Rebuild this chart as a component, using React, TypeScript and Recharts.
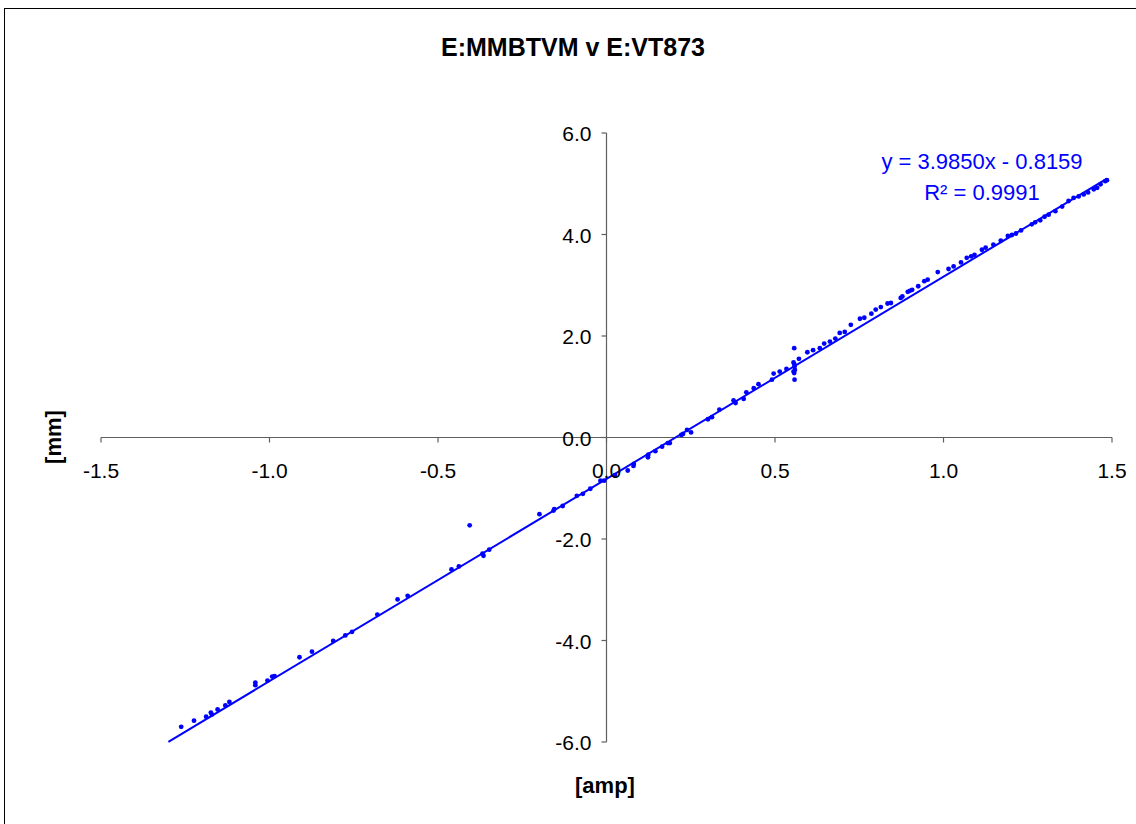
import { ReferenceLine, Scatter, ScatterChart, XAxis, YAxis } from "recharts";

// axis setup
const xTicks = [-1.5, -1.0, -0.5, 0, 0.5, 1.0, 1.5];
const yTicks = [-6, -4, -2, 0, 2, 4, 6];
const X_MIN = -1.5;
const X_MAX = 1.5;
const Y_MIN = -6;
const Y_MAX = 6;

// measured points: [amp] vs [mm]
const ampValues = [
  -1.262, -1.224, -1.188, -1.174, -1.171, -1.154, -1.131, -1.119, -1.042, -1.042,
  -1.006, -0.992, -0.985, -0.911, -0.874, -0.811, -0.775, -0.755, -0.68, -0.62,
  -0.59, -0.46, -0.438, -0.406, -0.368, -0.365, -0.348, -0.199, -0.157, -0.155,
  -0.13, -0.088, -0.07, -0.048, -0.018, -0.007, 0.025, 0.063, 0.08, 0.081,
  0.123, 0.124, 0.145, 0.165, 0.182, 0.188, 0.222, 0.227, 0.239, 0.251,
  0.301, 0.313, 0.335, 0.377, 0.383, 0.407, 0.415, 0.437, 0.451, 0.491,
  0.496, 0.514, 0.534, 0.557, 0.555, 0.557, 0.558, 0.559, 0.555, 0.557,
  0.558, 0.571, 0.596, 0.613, 0.633, 0.646, 0.663, 0.679, 0.692, 0.707,
  0.725, 0.752, 0.765, 0.786, 0.799, 0.814, 0.834, 0.844, 0.873, 0.878,
  0.894, 0.9, 0.907, 0.925, 0.943, 0.953, 0.983, 1.015, 1.03, 1.052,
  1.069, 1.082, 1.092, 1.114, 1.125, 1.148, 1.17, 1.191, 1.203, 1.215,
  1.23, 1.262, 1.272, 1.287, 1.3, 1.312, 1.332, 1.352, 1.371, 1.386,
  1.401, 1.416, 1.429, 1.446, 1.456, 1.466, 1.48, 1.485,
];
const mmValues = [
  -5.7, -5.58, -5.5, -5.42, -5.46, -5.36, -5.28, -5.21, -4.83, -4.88,
  -4.79, -4.71, -4.7, -4.33, -4.22, -4.01, -3.9, -3.83, -3.49, -3.19,
  -3.12, -2.6, -2.54, -1.73, -2.29, -2.33, -2.21, -1.51, -1.44, -1.41,
  -1.35, -1.15, -1.11, -1.01, -0.85, -0.85, -0.74, -0.65, -0.56, -0.52,
  -0.39, -0.34, -0.27, -0.18, -0.11, -0.11, 0.05, 0.07, 0.15, 0.1,
  0.36, 0.4, 0.55, 0.73, 0.68, 0.76, 0.89, 0.97, 1.05, 1.14,
  1.26, 1.3, 1.35, 1.76, 1.48, 1.45, 1.4, 1.33, 1.3, 1.27,
  1.14, 1.55, 1.68, 1.72, 1.76, 1.85, 1.89, 1.95, 2.06, 2.08,
  2.22, 2.34, 2.36, 2.44, 2.52, 2.57, 2.64, 2.65, 2.75, 2.78,
  2.87, 2.89, 2.91, 2.98, 3.08, 3.11, 3.26, 3.32, 3.37, 3.45,
  3.54, 3.57, 3.6, 3.7, 3.74, 3.8, 3.88, 3.97, 3.99, 4.02,
  4.08, 4.2, 4.24, 4.28, 4.35, 4.39, 4.46, 4.55, 4.66, 4.72,
  4.75, 4.79, 4.83, 4.89, 4.92, 4.99, 5.05, 5.07,
];

// linear trendline shown on the chart
const SLOPE = 3.985;
const INTERCEPT = -0.8159;
const trendRange = [-1.3, 1.485];

const points = ampValues.map((x, i) => ({ x, y: mmValues[i] }));
const trendSegment = trendRange.map((x) => ({ x, y: SLOPE * x + INTERCEPT }));

const W = 1136;
const H = 824;
const PLOT = { left: 101, top: 133, width: 1011, height: 609 };
const Y_AXIS_W = 60;
const X_AXIS_H = 30;
const ZERO_X = PLOT.left + (PLOT.width * (0 - X_MIN)) / (X_MAX - X_MIN);
const ZERO_Y = PLOT.top + (PLOT.height * (Y_MAX - 0)) / (Y_MAX - Y_MIN);

const FONT = "'Liberation Sans', Arial, sans-serif";
const AXIS_COLOR = "#5f5f5f";
const BLUE = "#0000FF";

const XTick = ({ x, payload }: any) => (
  <g>
    <line x1={x} y1={ZERO_Y} x2={x} y2={ZERO_Y + 5} stroke={AXIS_COLOR} strokeWidth={1.2} />
    <text x={x} y={ZERO_Y + 40} textAnchor="middle" fontSize={21} fontFamily={FONT} fill="#000">
      {Number(payload.value).toFixed(1)}
    </text>
  </g>
);

const YTick = ({ y, payload }: any) => (
  <g>
    <line x1={ZERO_X - 5} y1={y} x2={ZERO_X} y2={y} stroke={AXIS_COLOR} strokeWidth={1.2} />
    <text x={ZERO_X - 15} y={y + 8} textAnchor="end" fontSize={21} fontFamily={FONT} fill="#000">
      {Number(payload.value).toFixed(1)}
    </text>
  </g>
);

const Dot = ({ cx, cy }: any) => <circle cx={cx} cy={cy} r={2.4} fill={BLUE} />;

export default function App() {
  return (
    <div style={{ position: "absolute", left: 0, top: 0, width: W, height: H, overflow: "hidden", background: "#fff" }}>
      <div
        style={{
          position: "absolute",
          left: 4,
          top: 8,
          width: W + 10,
          height: H + 10,
          border: "1px solid #000",
        }}
      />
      <div style={{ position: "absolute", left: 0, top: 0 }}>
        <ScatterChart
          width={W}
          height={H}
          margin={{
            top: PLOT.top,
            right: W - PLOT.left - PLOT.width,
            bottom: H - PLOT.top - PLOT.height - X_AXIS_H,
            left: PLOT.left - Y_AXIS_W,
          }}
        >
          <XAxis
            type="number"
            dataKey="x"
            domain={[X_MIN, X_MAX]}
            ticks={xTicks}
            interval={0}
            height={X_AXIS_H}
            axisLine={false}
            tickLine={false}
            tick={<XTick />}
            allowDataOverflow
          />
          <YAxis
            type="number"
            dataKey="y"
            domain={[Y_MIN, Y_MAX]}
            ticks={yTicks}
            interval={0}
            width={Y_AXIS_W}
            axisLine={false}
            tickLine={false}
            tick={<YTick />}
            allowDataOverflow
          />
          <ReferenceLine y={0} stroke={AXIS_COLOR} strokeWidth={1.2} />
          <ReferenceLine x={0} stroke={AXIS_COLOR} strokeWidth={1.2} />
          <ReferenceLine segment={trendSegment} stroke={BLUE} strokeWidth={2} />
          <Scatter data={points} shape={<Dot />} isAnimationActive={false} />
        </ScatterChart>
      </div>
      <svg width={W} height={H} style={{ position: "absolute", left: 0, top: 0, pointerEvents: "none" }}>
        <text x={573} y={56} textAnchor="middle" fontSize={25} fontWeight="bold" fontFamily={FONT} fill="#000">
          E:MMBTVM v E:VT873
        </text>
        <text
          x={61}
          y={437}
          transform="rotate(-90 61 437)"
          textAnchor="middle"
          fontSize={22}
          fontWeight="bold"
          fontFamily={FONT}
          fill="#000"
        >
          [mm]
        </text>
        <text x={605} y={793} textAnchor="middle" fontSize={22} fontWeight="bold" fontFamily={FONT} fill="#000">
          [amp]
        </text>
        <text x={982} y={169} textAnchor="middle" fontSize={22} fontFamily={FONT} fill={BLUE}>
          y = 3.9850x - 0.8159
        </text>
        <text x={982} y={200} textAnchor="middle" fontSize={22} fontFamily={FONT} fill={BLUE}>
          R² = 0.9991
        </text>
      </svg>
    </div>
  );
}
